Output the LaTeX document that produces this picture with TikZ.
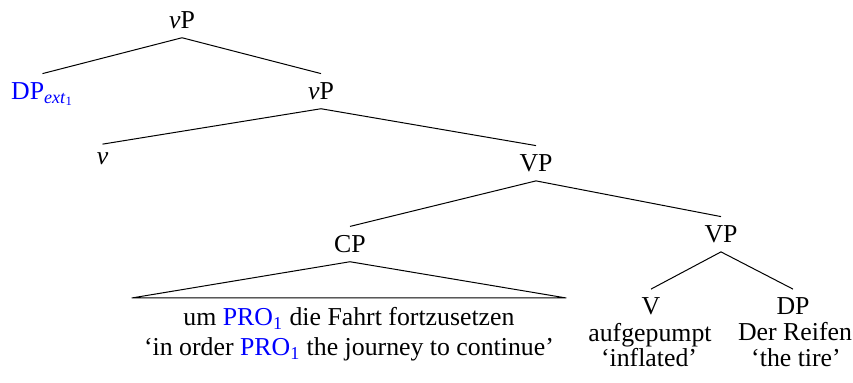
\documentclass[tikz,border=0pt]{standalone}
\usepackage{fontspec}
\setmainfont{Liberation Serif}
\definecolor{idxblue}{RGB}{0,0,255}
\begin{document}
\begin{tikzpicture}[x=0.5pt,y=-0.5pt,
  lab/.style={anchor=base,inner sep=4.3pt,font=\fontsize{12.9pt}{15pt}\selectfont},
  lex/.style={anchor=base,inner sep=0pt,font=\fontsize{12.9pt}{15pt}\selectfont},
  roofnode/.style={anchor=north,align=center,inner xsep=6pt,inner ysep=4.5pt,font=\fontsize{12.9pt}{15pt}\selectfont},
  edge/.style={line width=0.5pt}]
\useasboundingbox (0,0) rectangle (853,383);
% nodes
\node[lab] (vP0) at (182,28.5) {\textit{v}P};
\node[lab,text=idxblue] (dpext) at (42.5,99.5) {DP\textsubscript{\textit{ext}\textsubscript{1}}};
\node[lab] (vP1) at (321,99.5) {\textit{v}P};
\node[lab] (v) at (102.5,165) {\textit{v}};
\node[lab] (VP1) at (536,171.5) {VP};
\node[lab] (CP) at (350,252.5) {CP};
\node[lab] (VP2) at (721,242.5) {VP};
\node[lab] (V) at (651,315) {V};
\node[lab] (DP) at (793,315) {DP};
\node[lex] (vlex) at (650,342) {aufgepumpt};
\node[lex] (vgloss) at (649,367) {‘inflated’};
\node[lex] (dplex) at (795,341) {Der Reifen};
\node[lex] (dpgloss) at (796,366.5) {‘the tire’};
\node[roofnode] (roof) at (349,298) {um \textcolor{idxblue}{PRO\textsubscript{1}} die Fahrt fortzusetzen\\‘in order \textcolor{idxblue}{PRO\textsubscript{1}} the journey to continue’};
% edges
\draw[edge] (vP0.south) -- (dpext.north);
\draw[edge] (vP0.south) -- (vP1.north);
\draw[edge] (vP1.south) -- (v.north);
\draw[edge] (vP1.south) -- (VP1.north);
\draw[edge] (VP1.south) -- (CP.north);
\draw[edge] (VP1.south) -- (VP2.north);
\draw[edge] (VP2.south) -- (V.north);
\draw[edge] (VP2.south) -- (DP.north);
\draw[edge] (CP.south) -- (roof.north west) -- (roof.north east) -- cycle;
\end{tikzpicture}
\end{document}
